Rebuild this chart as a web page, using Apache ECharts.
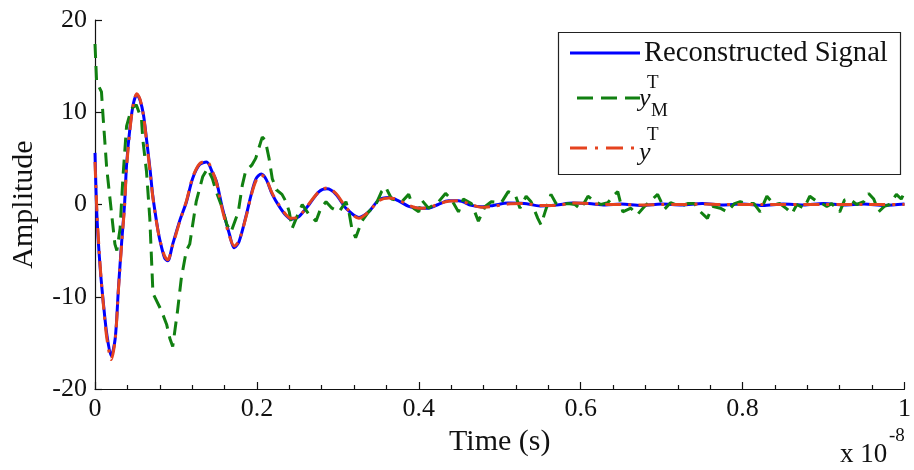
<!DOCTYPE html>
<html>
<head>
<meta charset="utf-8">
<script src="https://cdn.jsdelivr.net/npm/echarts@6/dist/echarts.min.js"></script>
<style>
  html, body { margin: 0; padding: 0; background: #fff; }
  #chart { width: 914px; height: 470px; }
</style>
</head>
<body>
<div id="chart"></div>
<script>
// Time samples (units of 1e-8 s) for the reconstructed and true signals
const tRec = [
  0, 0.0025, 0.0065, 0.0107, 0.0148, 0.020, 0.025, 0.029, 0.033, 0.0365,
  0.039, 0.0434, 0.0476, 0.0517, 0.0557, 0.0599, 0.064, 0.068, 0.0713, 0.0763,
  0.080, 0.086, 0.0898, 0.096, 0.1045, 0.113, 0.1205, 0.129, 0.1378, 0.145,
  0.150, 0.1574, 0.166, 0.172, 0.178, 0.187, 0.193, 0.199, 0.2054, 0.2116,
  0.219, 0.2276, 0.236, 0.2423, 0.252, 0.2645, 0.2768, 0.2866, 0.2977, 0.31,
  0.326, 0.338, 0.3506, 0.363, 0.375, 0.3875, 0.40, 0.412, 0.424, 0.4367,
  0.449, 0.465, 0.477, 0.492, 0.51, 0.53, 0.55, 0.57, 0.59, 0.61,
  0.63, 0.65, 0.675, 0.70, 0.725, 0.75, 0.775, 0.80, 0.825, 0.85,
  0.875, 0.90, 0.925, 0.95, 0.975, 1.0
];
// Reconstructed signal amplitude
const yRec = [
  5.6, -1.5, -7.0, -11.0, -14.2, -16.4, -14.5, -9.0, -4.0, 0.0,
  4.3, 8.5, 11.0, 11.9, 11.3, 9.7, 6.8, 3.8, 1.0, -2.0,
  -3.8, -5.8, -6.1, -4.3, -1.8, 0.3, 2.8, 4.3, 4.6, 3.5,
  2.5, -0.4, -3.2, -4.7, -4.0, -1.1, 1.1, 2.8, 3.3, 2.7,
  1.1, -0.2, -1.2, -1.6, -1.3, 0.0, 1.4, 1.7, 1.1, -0.4,
  -1.4, -0.8, 0.5, 0.75, 0.4, -0.2, -0.4, -0.4, 0.0, 0.4,
  0.4, -0.1, -0.25, -0.1, 0.15, 0.1, -0.15, -0.05, 0.15, 0.1,
  -0.05, 0.05, -0.1, 0.05, -0.05, 0.1, -0.05, 0.05, -0.1, 0.05,
  -0.05, 0.1, -0.05, 0.05, -0.1, 0.05
];
// True signal y^T
const yTrue = [
  4.6, -1.0, -6.8, -11.2, -14.6, -16.8, -14.6, -9.2, -4.2, -0.2,
  4.0, 8.3, 11.0, 12.0, 11.4, 9.6, 6.6, 3.6, 0.9, -2.1,
  -3.8, -5.6, -6.0, -4.4, -1.9, 0.4, 2.9, 4.4, 4.7, 3.6,
  2.4, -0.6, -3.4, -4.5, -3.9, -1.2, 1.0, 2.6, 3.2, 2.7,
  1.2, -0.1, -1.1, -1.5, -1.3, 0.1, 1.4, 1.8, 1.2, -0.3,
  -1.5, -0.8, 0.4, 0.7, 0.5, -0.1, -0.4, -0.35, 0.05, 0.35,
  0.4, 0.0, -0.3, -0.2, 0.05, 0.1, -0.1, -0.1, 0.15, 0.1,
  0.0, 0.0, -0.05, 0.0, 0.0, 0.05, 0.0, 0.0, 0.0, 0.0,
  0.0, 0.0, 0.0, 0.0, 0.0, 0.0
];
// Measured signal y_M^T: time samples and amplitude
const tMeas = [
  0, 0.002, 0.008, 0.010, 0.0144, 0.0205, 0.0246, 0.027, 0.031, 0.0344,
  0.039, 0.045, 0.051, 0.0574, 0.059, 0.0636, 0.0677, 0.0713, 0.0725, 0.082,
  0.0885, 0.0924, 0.096, 0.102, 0.1066, 0.1128, 0.117, 0.125, 0.133, 0.139,
  0.145, 0.1497, 0.1574, 0.163, 0.168, 0.177, 0.182, 0.186, 0.194, 0.1985,
  0.2066, 0.2103, 0.215, 0.219, 0.224, 0.231, 0.236, 0.240, 0.2435, 0.250,
  0.256, 0.2645, 0.273, 0.279, 0.2854, 0.2927, 0.3014, 0.310, 0.3137, 0.3173,
  0.322, 0.3296, 0.338, 0.347, 0.354, 0.359, 0.3665, 0.379, 0.3875, 0.3936,
  0.400, 0.4034, 0.412, 0.4244, 0.433, 0.440, 0.449, 0.455, 0.465, 0.4736,
  0.482, 0.4895, 0.502, 0.5105, 0.519, 0.525, 0.5326, 0.5387, 0.547, 0.551,
  0.556, 0.5633, 0.5695, 0.5756, 0.584, 0.593, 0.600, 0.609, 0.6175, 0.625,
  0.6335, 0.642, 0.6458, 0.652, 0.662, 0.670, 0.679, 0.689, 0.695, 0.7036,
  0.711, 0.723, 0.732, 0.7405, 0.748, 0.7565, 0.7626, 0.7724, 0.781, 0.790,
  0.797, 0.8057, 0.814, 0.8217, 0.830, 0.839, 0.846, 0.855, 0.861, 0.867,
  0.876, 0.883, 0.892, 0.898, 0.904, 0.910, 0.920, 0.926, 0.932, 0.941,
  0.9496, 0.9557, 0.962, 0.968, 0.975, 0.9815, 0.990, 0.996, 1.0
];
const yMeas = [
  17.4, 13.3, 12.2, 9.5, 4.0, -1.0, -4.3, -5.0, -2.6, 2.8,
  8.5, 10.4, 10.8, 9.3, 7.1, 3.6, -1.5, -9.0, -9.8, -11.5,
  -13.0, -14.5, -15.4, -11.5, -8.0, -5.0, -4.3, 0.3, 3.0, 3.9,
  2.8, 1.4, -0.4, -2.2, -3.0, -0.8, 2.1, 3.6, 4.3, 5.0,
  7.3, 7.0, 5.0, 2.8, 1.6, 1.1, 0.3, -0.8, -2.6, -1.2,
  0.0, -1.1, -1.8, -0.4, 0.3, -0.4, -0.8, 0.3, -0.8, -2.6,
  -3.6, -1.8, -0.8, 0.0, 1.4, 1.9, 0.6, 0.3, 1.1, -0.4,
  -0.8, 0.5, -0.4, 0.3, 1.2, 0.6, -0.8, 0.6, 0.1, -1.8,
  -0.2, 0.3, 0.2, 1.4, 1.1, -0.4, 0.9, 0.3, -1.5, -2.2,
  -0.8, 1.1, 0.1, 0.0, 0.1, 0.0, -0.5, 0.9, 0.3, 0.0,
  0.2, 1.1, 1.4, -0.8, -0.4, -1.1, -0.2, 0.6, 1.1, -0.5,
  0.2, -0.2, 0.1, 0.1, -0.8, -1.5, -0.2, -0.4, -0.8, 0.1,
  0.3, 0.1, 0.1, -0.8, 0.9, 0.0, 0.1, -0.5, -1.0, 0.0,
  -0.4, 0.9, 0.3, 0.1, -0.2, 0.1, -0.8, 0.5, 0.6, 0.0,
  0.3, 1.2, 0.6, -0.8, -0.2, 0.0, 1.1, 0.6, 1.3
];
// Axis ticks
const xTicks = [0, 0.2, 0.4, 0.6, 0.8, 1];
const yTicks = [-20, -10, 0, 10, 20];

const pairs = (ts, ys) => ts.map((t, i) => [t, ys[i]]);

const SERIF = '"Liberation Serif", "DejaVu Serif", serif';
const chart = echarts.init(document.getElementById('chart'), null, { renderer: 'canvas' });

const option = {
  backgroundColor: '#ffffff',
  animation: false,
  grid: { left: 95, right: 6, top: 20, bottom: 81, containLabel: false },
  xAxis: {
    type: 'value',
    min: xTicks[0],
    max: xTicks[xTicks.length - 1],
    interval: xTicks[1] - xTicks[0],
    name: 'Time (s)',
    nameLocation: 'middle',
    nameGap: 34,
    nameTextStyle: { fontFamily: SERIF, fontSize: 30, color: '#111' },
    axisLine: { show: true, onZero: false, lineStyle: { color: '#111', width: 1.2 } },
    axisTick: { show: true, inside: true, length: 7, lineStyle: { color: '#111', width: 1.2 } },
    minorTick: { show: true, splitNumber: 5, length: 4, lineStyle: { color: '#111', width: 1.2 } },
    axisLabel: { fontFamily: SERIF, fontSize: 26, color: '#111', margin: 7 },
    splitLine: { show: false }
  },
  yAxis: {
    type: 'value',
    min: yTicks[0],
    max: yTicks[yTicks.length - 1],
    interval: yTicks[1] - yTicks[0],
    name: 'Amplitude',
    nameLocation: 'middle',
    nameGap: 56,
    nameRotate: 90,
    nameTextStyle: { fontFamily: SERIF, fontSize: 30, color: '#111' },
    axisLine: { show: true, onZero: false, lineStyle: { color: '#111', width: 1.2 } },
    axisTick: { show: true, inside: true, length: 7, lineStyle: { color: '#111', width: 1.2 } },
    axisLabel: { fontFamily: SERIF, fontSize: 26, color: '#111', margin: 8 },
    splitLine: { show: false }
  },
  series: [
    {
      name: 'Reconstructed Signal',
      type: 'line',
      data: pairs(tRec, yRec),
      showSymbol: false,
      smooth: 0.3,
      lineStyle: { color: '#0000ff', width: 3 },
      z: 2
    },
    {
      name: 'yMT',
      type: 'line',
      data: pairs(tMeas, yMeas),
      showSymbol: false,
      lineStyle: { color: '#118011', width: 3, type: [14, 8] },
      z: 3
    },
    {
      name: 'yT',
      type: 'line',
      data: pairs(tRec, yTrue),
      showSymbol: false,
      smooth: 0.3,
      lineStyle: { color: '#e5431f', width: 3, type: [16, 7, 3, 7] },
      z: 4
    }
  ],
  graphic: [
    { type: 'text', left: 840, top: 441,
      style: { text: 'x 10', fontFamily: SERIF, fontSize: 27, fill: '#111' }, z: 10 },
    { type: 'text', left: 889, top: 427,
      style: { text: '-8', fontFamily: SERIF, fontSize: 19, fill: '#111' }, z: 10 },
    // legend box
    {
      type: 'group', z: 20,
      children: [
        { type: 'rect', shape: { x: 558.5, y: 32.5, width: 342, height: 142 },
          style: { fill: '#fff', stroke: '#222', lineWidth: 1.2 } },
        { type: 'line', shape: { x1: 570, y1: 53, x2: 640, y2: 53 },
          style: { stroke: '#0000ff', lineWidth: 3 } },
        { type: 'text', style: { text: 'Reconstructed Signal', x: 644, y: 53,
          verticalAlign: 'middle', fontFamily: SERIF, fontSize: 28.6, fill: '#111' } },
        { type: 'line', shape: { x1: 577, y1: 98, x2: 640, y2: 98 },
          style: { stroke: '#118011', lineWidth: 3, lineDash: [16, 8] } },
        { type: 'text', style: { text: 'y', x: 639, y: 99, verticalAlign: 'middle',
          fontFamily: SERIF, fontStyle: 'italic', fontSize: 26, fill: '#111' } },
        { type: 'text', style: { text: 'T', x: 647, y: 83, verticalAlign: 'middle',
          fontFamily: SERIF, fontSize: 19, fill: '#111' } },
        { type: 'text', style: { text: 'M', x: 651, y: 111, verticalAlign: 'middle',
          fontFamily: SERIF, fontSize: 19, fill: '#111' } },
        { type: 'line', shape: { x1: 570, y1: 148, x2: 640, y2: 148 },
          style: { stroke: '#e5431f', lineWidth: 3, lineDash: [17, 8, 3, 8] } },
        { type: 'text', style: { text: 'y', x: 639, y: 153, verticalAlign: 'middle',
          fontFamily: SERIF, fontStyle: 'italic', fontSize: 26, fill: '#111' } },
        { type: 'text', style: { text: 'T', x: 647, y: 135, verticalAlign: 'middle',
          fontFamily: SERIF, fontSize: 19, fill: '#111' } }
      ]
    }
  ]
};

chart.setOption(option);
</script>
</body>
</html>
